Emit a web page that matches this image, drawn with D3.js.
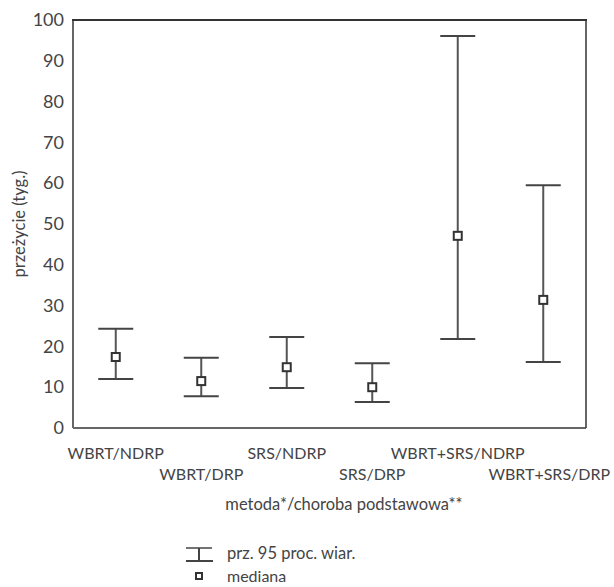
<!DOCTYPE html>
<html>
<head>
<meta charset="utf-8">
<script src="https://cdn.jsdelivr.net/npm/d3@7"></script>
<style>
body{margin:0;background:#fff;}
text{font-family:Lato,"Open Sans",sans-serif;font-weight:400;fill:#444;}
</style>
</head>
<body>
<script>
// dane (tygodnie)
var kategorie=["WBRT/NDRP","WBRT/DRP","SRS/NDRP","SRS/DRP","WBRT+SRS/NDRP","WBRT+SRS/DRP"];
var dolnaGranica=[12.0,7.8,9.8,6.4,21.8,16.2];
var gornaGranica=[24.3,17.2,22.3,15.9,96.1,59.5];
var mediany=[17.4,11.5,14.9,10.0,47.1,31.4];
var ticki=[0,10,20,30,40,50,60,70,80,90,100];

var szer=614, wys=587;
var lewo=73, prawo=586, gora=20, dol=428;

var svg=d3.select("body").append("svg")
	.attr("width",szer)
	.attr("height",wys);

var y=d3.scaleLinear().domain([0,100]).range([dol,gora]);
var x=d3.scalePoint().domain(kategorie).range([lewo,prawo]).padding(0.5);

//os Y
var osY=svg.append("g")
	.attr("transform","translate("+lewo+",0)")
	.call(d3.axisLeft(y).tickValues(ticki).tickSize(0).tickPadding(9));
osY.select(".domain").remove();
osY.selectAll("text")
	.style("font-size","18px")
	.style("font-family","Lato, 'Open Sans', sans-serif")
	.attr("fill","#444");

//ramka
svg.append("line").attr("x1",lewo).attr("x2",lewo).attr("y1",gora).attr("y2",dol)
	.style("stroke","#666").style("stroke-width",2);
svg.append("line").attr("x1",lewo).attr("x2",prawo).attr("y1",dol).attr("y2",dol)
	.style("stroke","#666").style("stroke-width",2);
svg.append("line").attr("x1",lewo-1).attr("x2",prawo+1).attr("y1",gora).attr("y2",gora)
	.style("stroke","#333").style("stroke-width",2);
svg.append("line").attr("x1",prawo).attr("x2",prawo).attr("y1",gora).attr("y2",dol)
	.style("stroke","#333").style("stroke-width",1.5);

//przedzialy
var pol=17.5;
var grupy=svg.selectAll("g.przedzial").data(kategorie).enter().append("g").attr("class","przedzial");
grupy.append("line")
	.attr("x1",function(d){return x(d);})
	.attr("x2",function(d){return x(d);})
	.attr("y1",function(d,i){return y(gornaGranica[i]);})
	.attr("y2",function(d,i){return y(dolnaGranica[i]);})
	.style("stroke","#555").style("stroke-width",2);
grupy.append("line")
	.attr("x1",function(d){return x(d)-pol;})
	.attr("x2",function(d){return x(d)+pol;})
	.attr("y1",function(d,i){return y(gornaGranica[i]);})
	.attr("y2",function(d,i){return y(gornaGranica[i]);})
	.style("stroke","#444").style("stroke-width",2);
grupy.append("line")
	.attr("x1",function(d){return x(d)-pol;})
	.attr("x2",function(d){return x(d)+pol;})
	.attr("y1",function(d,i){return y(dolnaGranica[i]);})
	.attr("y2",function(d,i){return y(dolnaGranica[i]);})
	.style("stroke","#444").style("stroke-width",2);
grupy.append("rect")
	.attr("x",function(d){return x(d)-4;})
	.attr("y",function(d,i){return y(mediany[i])-4;})
	.attr("width",8).attr("height",8)
	.style("fill","white").style("stroke","#333").style("stroke-width",2);

//podpisy kategorii (na przemian w dwoch rzedach)
svg.selectAll("text.kat").data(kategorie).enter().append("text")
	.attr("class","kat")
	.attr("x",function(d,i){return x(d)+(i==5?6:0);})
	.attr("y",function(d,i){return i%2==0?459:480;})
	.attr("text-anchor","middle")
	.style("font-size","16px")
	.text(function(d){return d;});

//tytuly osi
svg.append("text").attr("x",344).attr("y",510).attr("text-anchor","middle")
	.style("font-size","16.5px").text("metoda*/choroba podstawowa**");
svg.append("text")
	.attr("transform","translate(25,"+((gora+dol)/2)+") rotate(-90)")
	.attr("text-anchor","middle")
	.style("font-size","16.5px").text("przeżycie (tyg.)");

//legenda
var leg=svg.append("g");
leg.append("line").attr("x1",186).attr("x2",212).attr("y1",548).attr("y2",548)
	.style("stroke","#444").style("stroke-width",1.5);
leg.append("line").attr("x1",186).attr("x2",213).attr("y1",561).attr("y2",561)
	.style("stroke","#444").style("stroke-width",2);
leg.append("line").attr("x1",199).attr("x2",199).attr("y1",548).attr("y2",561)
	.style("stroke","#444").style("stroke-width",2);
leg.append("rect").attr("x",196).attr("y",573).attr("width",6).attr("height",6)
	.style("fill","white").style("stroke","#333").style("stroke-width",2);
leg.append("text").attr("x",227).attr("y",559).style("font-size","16.5px").text("prz. 95 proc. wiar.");
leg.append("text").attr("x",227).attr("y",582).style("font-size","16px").text("mediana");
</script>
</body>
</html>
